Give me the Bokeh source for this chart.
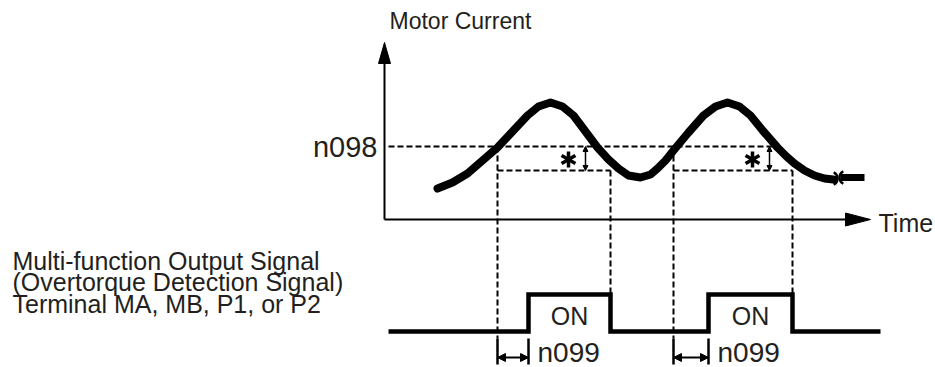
import math
from bokeh.plotting import figure
from bokeh.models import Range1d, ColumnDataSource, Arrow, NormalHead
from bokeh.core.properties import value
from bokeh.embed import file_html
from bokeh.resources import INLINE

# ---------------- data (time units / current units) ----------------
curve_time = [53, 68, 83, 98, 113, 128, 143, 154, 166, 178, 189, 201, 213, 224, 234,
              244, 256, 266, 273, 281, 289, 304, 319, 331, 343, 355, 366, 379, 393,
              402, 410, 420, 430, 440, 449]
curve_current = [31, 37, 46, 59, 72, 88, 104, 113, 117, 113, 104, 88, 72, 60, 51,
                 44, 42, 45, 51, 59, 69, 87, 104, 113, 117, 113, 104, 88, 72,
                 63, 56, 49, 44, 41, 40]
tail_time = [456, 480]
tail_current = [42, 42]

n098_level = 73          # overtorque detection level
release_level = 49       # level where detection is released
detect_up = [113, 289]   # times the current crosses n098 upwards
detect_down = [226, 408] # times the current falls below release level
on_time = [144, 324]     # output turns ON after n099 delay
star_time = [184, 368]
signal_start, signal_end = 4, 496
n098_line_end = 393

axis_time_end = 486
axis_current_end = 177

left_labels = ["Multi-function Output Signal",
               "(Overtorque Detection Signal)",
               "Terminal MA, MB, P1, or P2"]

# ---------------- layout / style constants ----------------
SIG_BASE = -112
SIG_HIGH = 37
FONT = value("Liberation Sans")
TXT = "#231f20"

p = figure(width=935, height=367, x_range=Range1d(-384, 551), y_range=Range1d(-148, 219),
           output_backend="svg", toolbar_location=None, x_axis_type=None, y_axis_type=None,
           min_border=0, outline_line_color=None)
p.grid.visible = False
p.background_fill_color = "white"

# axes
p.line([0, 0], [0, axis_current_end - 20], line_color="black", line_width=2)
p.line([0, axis_time_end - 24], [0, 0], line_color="black", line_width=2)
p.patch([-6, 0, 6], [axis_current_end - 21, axis_current_end, axis_current_end - 21], color="black")
p.patch([axis_time_end - 25, axis_time_end, axis_time_end - 25], [6.5, 0, -6.5], color="black")

# dashed guide lines
dash = dict(line_color="black", line_width=2, line_dash="6 3")
p.line([4, n098_line_end], [n098_level, n098_level], **dash)
p.segment(x0=detect_up, y0=[release_level] * 2, x1=detect_down, y1=[release_level] * 2, **dash)
p.segment(x0=detect_up, y0=[n098_level] * 2, x1=detect_up, y1=[SIG_BASE - 7] * 2, **dash)
p.segment(x0=detect_down, y0=[release_level] * 2, x1=detect_down, y1=[SIG_BASE + SIG_HIGH] * 2, **dash)

# motor current curve
p.line(curve_time, curve_current, line_color="black", line_width=8, line_cap="round", line_join="round")
p.line(tail_time, tail_current, line_color="black", line_width=7)
p.arc(x=[curve_time[-1] - 3], y=[curve_current[-1] + 1], radius=7, radius_units="screen",
      start_angle=-1.1, end_angle=1.1, line_color="black", line_width=2.5)
p.arc(x=[tail_time[0] + 6], y=[tail_current[0]], radius=7, radius_units="screen",
      start_angle=math.pi - 1.1, end_angle=math.pi + 1.1, line_color="black", line_width=2.5)

# asterisks (6 arms)
rx, ry, ra = [], [], []
for t in star_time:
    for k in range(6):
        rx.append(t)
        ry.append(60)
        ra.append(math.pi / 2 + k * math.pi / 3)
p.ray(x=rx, y=ry, angle=ra, length=8, length_units="screen", line_color="black", line_width=3.5)

# small hysteresis arrows
hyst_src = ColumnDataSource(dict(x=[t + 17 for t in star_time], y0=[n098_level] * 2, y1=[release_level] * 2))
p.add_layout(Arrow(x_start="x", y_start="y0", x_end="x", y_end="y1", source=hyst_src,
                   start=NormalHead(size=5, fill_color="black", line_color="black", line_width=1),
                   end=NormalHead(size=5, fill_color="black", line_color="black", line_width=1),
                   line_width=1.5, line_color="black"))

# output signal
sig_t = [signal_start]
sig_s = [0]
for ton, toff in zip(on_time, detect_down):
    sig_t += [ton, ton, toff, toff]
    sig_s += [0, 1, 1, 0]
sig_t.append(signal_end)
sig_s.append(0)
p.line(sig_t, [SIG_BASE + s * SIG_HIGH for s in sig_s], line_color="black", line_width=4.5,
       line_join="miter")

# delay (n099) arrows and ticks
DELAY_Y = -138
p.segment(x0=detect_up, y0=[SIG_BASE - 7] * 2, x1=detect_up, y1=[DELAY_Y - 7] * 2, line_color="black", line_width=2.5)
p.segment(x0=on_time, y0=[SIG_BASE - 7] * 2, x1=on_time, y1=[DELAY_Y - 7] * 2, line_color="black", line_width=2.5)
del_src = ColumnDataSource(dict(x0=detect_up, x1=on_time, y=[DELAY_Y] * 2))
p.add_layout(Arrow(x_start="x0", y_start="y", x_end="x1", y_end="y", source=del_src,
                   start=NormalHead(size=8, fill_color="black", line_color="black", line_width=1),
                   end=NormalHead(size=8, fill_color="black", line_color="black", line_width=1),
                   line_width=2, line_color="black"))


# texts (y given as intended baseline; shifted for the renderer's baseline handling)
def label(xs, ys, texts, size, align="left"):
    shift = 0.4 * size
    p.text(x=xs, y=[y + shift for y in ys], text=texts, text_font=FONT,
           text_font_size=f"{size}px", text_color=TXT, text_baseline="alphabetic",
           text_align=align)


label([5], [189], ["Motor Current"], 23)
label([-7], [61], ["n098"], 29, "right")
label([494], [-13], ["Time"], 25)
label([-372] * 3, [-51, -72.5, -94], left_labels, 25)
label([(a + b) / 2 for a, b in zip(on_time, detect_down)], [SIG_BASE + 6] * 2, ["ON", "ON"], 25, "center")
label([t + 9 for t in on_time], [-144] * 2, ["n099", "n099"], 28)

open("out.html", "w").write(file_html(p, INLINE))
